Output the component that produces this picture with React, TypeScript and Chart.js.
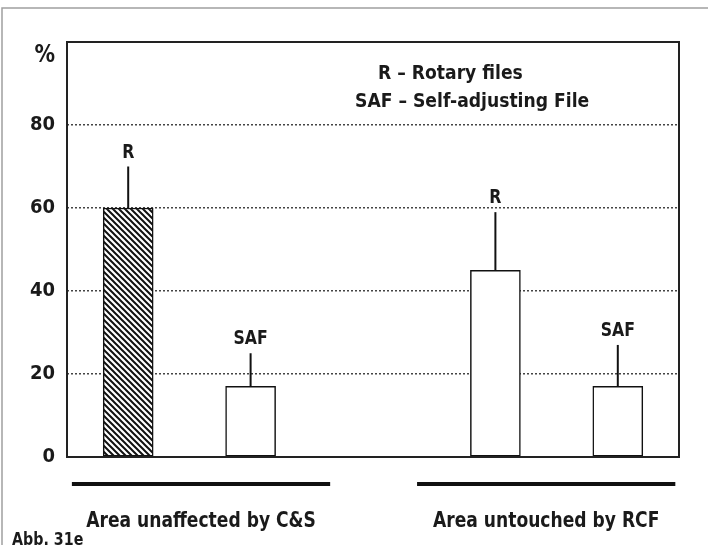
import React, { useEffect, useRef } from "react";
import { Chart, registerables } from "chart.js";

Chart.register(...registerables);

// ---- data ----
const groupLabels = ["Area unaffected by C&S", "Area untouched by RCF"];
const groupSpans = [
  [0.04, 2.15],
  [2.86, 4.97],
];
const barLabels = ["R", "SAF", "R", "SAF"];
const barPositions = [0.5, 1.5, 3.5, 4.5];
const barValues = [60, 17, 45, 17];
const errorTops = [70, 25, 59, 27];
const barHatched = [true, false, false, false];
const yTickValues = [0, 20, 40, 60, 80, 100];
const yUnitLabel = "%";
const legendLines = ["R – Rotary files", "SAF – Self-adjusting File"];
const figureLabel = "Abb. 31e";

const FONT = "'Liberation Sans Narrow', 'DejaVu Sans Condensed', 'Liberation Sans', sans-serif";

function makeHatch(): CanvasPattern | string {
  const s = 6;
  const c = document.createElement("canvas");
  c.width = s;
  c.height = s;
  const g = c.getContext("2d");
  if (!g) return "#fff";
  g.fillStyle = "#fff";
  g.fillRect(0, 0, s, s);
  g.strokeStyle = "#111";
  g.lineWidth = 2;
  g.beginPath();
  g.moveTo(-1, -1);
  g.lineTo(s + 1, s + 1);
  g.moveTo(-1, s - 1);
  g.lineTo(1, s + 1);
  g.moveTo(s - 1, -1);
  g.lineTo(s + 1, 1);
  g.stroke();
  const p = g.createPattern(c, "repeat");
  return p || "#fff";
}

function drawText(
  ctx: CanvasRenderingContext2D,
  text: string,
  x: number,
  y: number,
  size: number,
  align: CanvasTextAlign,
  sx: number
) {
  ctx.save();
  ctx.translate(x, y);
  ctx.scale(sx, 1);
  ctx.font = `bold ${size}px ${FONT}`;
  ctx.textAlign = align;
  ctx.textBaseline = "alphabetic";
  ctx.fillText(text, 0, 0);
  ctx.restore();
}

const overlay = {
  id: "overlay",
  afterDraw(chart: any) {
    const ctx = chart.ctx as CanvasRenderingContext2D;
    const { chartArea } = chart;
    const xs = chart.scales.x;
    const ys = chart.scales.y;
    ctx.save();

    // outer gray frame
    ctx.strokeStyle = "#a0a0a0";
    ctx.lineWidth = 1.5;
    ctx.beginPath();
    ctx.moveTo(2, 545);
    ctx.lineTo(2, 8);
    ctx.lineTo(708, 8);
    ctx.stroke();

    // plot frame
    ctx.strokeStyle = "#222";
    ctx.lineWidth = 2;
    ctx.strokeRect(chartArea.left, chartArea.top, chartArea.right - chartArea.left, chartArea.bottom - chartArea.top);

    ctx.fillStyle = "#1a1a1a";

    // error lines and bar labels
    barPositions.forEach((p, i) => {
      const x = xs.getPixelForValue(p);
      const y1 = ys.getPixelForValue(barValues[i]);
      const y2 = ys.getPixelForValue(errorTops[i]);
      ctx.strokeStyle = "#111";
      ctx.lineWidth = 2;
      ctx.beginPath();
      ctx.moveTo(x, y1);
      ctx.lineTo(x, y2);
      ctx.stroke();
      drawText(ctx, barLabels[i], x, y2 - 9, 19, "center", 0.92);
    });

    // unit label
    drawText(ctx, yUnitLabel, chartArea.left - 12, ys.getPixelForValue(100) + 20, 24, "right", 0.95);

    // legend text
    drawText(ctx, legendLines[0], 378, 79, 20, "left", 0.955);
    drawText(ctx, legendLines[1], 355, 107, 20, "left", 0.955);

    // group lines and labels
    groupSpans.forEach((sp, i) => {
      const xa = xs.getPixelForValue(sp[0]);
      const xb = xs.getPixelForValue(sp[1]);
      ctx.strokeStyle = "#111";
      ctx.lineWidth = 4;
      ctx.beginPath();
      ctx.moveTo(xa, 484);
      ctx.lineTo(xb, 484);
      ctx.stroke();
      drawText(ctx, groupLabels[i], (xa + xb) / 2, 527, 22, "center", 0.865);
    });

    // figure label
    drawText(ctx, figureLabel, 12, 545, 18, "left", 0.88);

    ctx.restore();
  },
};

export default function App() {
  const ref = useRef<HTMLCanvasElement | null>(null);
  useEffect(() => {
    if (!ref.current) return;
    const hatch = makeHatch();
    const chart = new Chart(ref.current, {
      type: "bar",
      data: {
        datasets: [
          {
            data: barPositions.map((p, i) => ({ x: p, y: barValues[i] })),
            backgroundColor: barHatched.map((h) => (h ? hatch : "#ffffff")) as any,
            borderColor: "#111",
            borderWidth: 1.5,
            borderSkipped: false,
            barThickness: 50,
          },
        ],
      },
      options: {
        animation: false,
        responsive: false,
        events: [],
        layout: { padding: { left: 0, top: 42, right: 29, bottom: 88 } },
        plugins: { legend: { display: false }, tooltip: { enabled: false } },
        scales: {
          x: {
            type: "linear",
            min: 0,
            max: 5,
            offset: false,
            display: false,
          },
          y: {
            min: 0,
            max: 100,
            afterBuildTicks: (scale: any) => {
              scale.ticks = yTickValues.map((v) => ({ value: v }));
            },
            afterFit: (scale: any) => {
              scale.width = 67;
            },
            ticks: {
              padding: 12,
              color: "#1a1a1a",
              font: { family: FONT, size: 20, weight: "bold" },
              callback: (v: any) => (v === 100 ? "" : String(v)),
            },
            grid: {
              drawTicks: false,
              lineWidth: 1.5,
              color: (c: any) => (c.tick && (c.tick.value === 0 || c.tick.value === 100) ? "rgba(0,0,0,0)" : "#444"),
            },
            border: { display: false, dash: [2, 2] },
          },
        },
      },
      plugins: [overlay],
    } as any);
    return () => chart.destroy();
  }, []);
  return (
    <div style={{ position: "absolute", left: 0, top: 0, width: 708, height: 545, background: "#fff" }}>
      <canvas ref={ref} width={708} height={545} style={{ display: "block" }} />
    </div>
  );
}
